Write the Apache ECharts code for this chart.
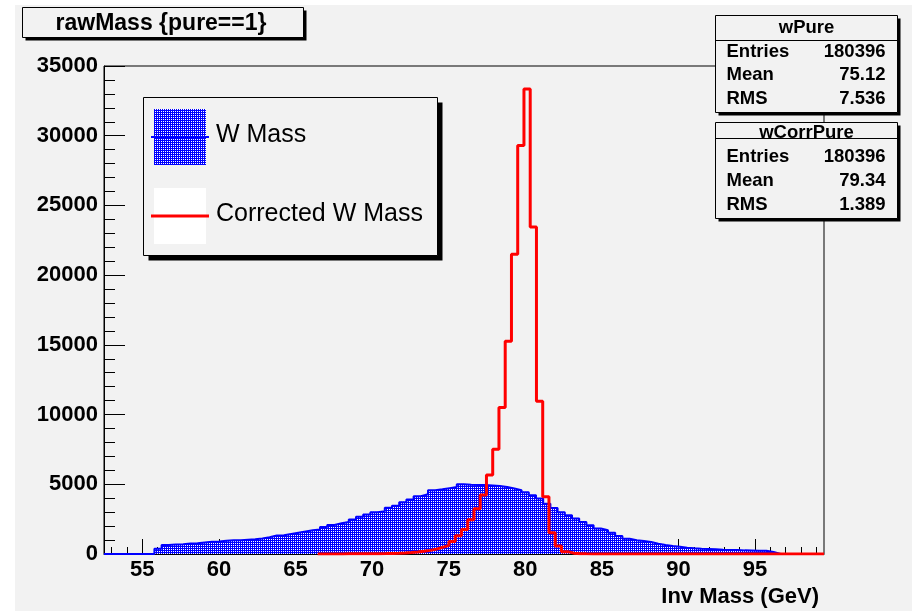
<!DOCTYPE html>
<html><head><meta charset="utf-8">
<script src="https://cdn.jsdelivr.net/npm/echarts@6/dist/echarts.min.js"></script>
<style>
html,body{margin:0;padding:0;background:#ffffff;}
#bg{position:absolute;left:15px;top:5px;width:897px;height:606px;background:#f2f2f2;}
#c{position:absolute;left:0;top:0;width:917px;height:611px;}
</style>
</head><body><div id="bg"></div><div id="c"></div>
<script>
// ---- data ----
const titleText = "rawMass {pure==1}";
const xAxisTitle = "Inv Mass (GeV)";
const xMin = 52.5, xMax = 99.5;
const yMin = 0, yMax = 35000, yStep = 5000;
const xMajorTicks = [55, 60, 65, 70, 75, 80, 85, 90, 95];
const xMinorTicks = [53, 54, 56, 57, 58, 59, 61, 62, 63, 64, 66, 67, 68, 69, 71, 72, 73, 74, 76, 77, 78, 79, 81, 82, 83, 84, 86, 87, 88, 89, 91, 92, 93, 94, 96, 97, 98, 99];

// W Mass histogram (100 bins from 52.5, width 0.47)
const wMassBinStart = 52.5, wMassBinWidth = 0.47;
const wMass = [0, 0, 0, 0, 0, 0, 0,
  380, 640, 690, 700, 750, 770, 830, 880, 890, 950,
  980, 990, 1030, 1060, 1110, 1200, 1330, 1350, 1440, 1530,
  1620, 1700, 1760, 1930, 2080, 2200, 2300, 2480, 2670, 2840,
  2990, 3070, 3310, 3460, 3720, 3900, 4150, 4280, 4580, 4640,
  4720, 4800, 5000, 4960, 4950, 4950, 4920, 4870, 4800, 4700,
  4580, 4430, 4220, 3980, 3600, 3300, 3000, 2780, 2540, 2300,
  2060, 1830, 1700, 1530, 1290, 1100, 980, 930, 860, 740,
  645, 575, 525, 455, 405, 380, 360, 335, 310, 290,
  280, 260, 255, 240, 235, 140,
  0, 0, 0, 0, 0, 0, 0];

// Corrected W Mass histogram (bins from 66.45, width 0.408)
const wCorrBinStart = 66.45, wCorrBinWidth = 0.408;
const wCorrMass = [0, 0, 5, 5, 10, 10, 15, 15, 20, 25, 30,
  40, 55, 75, 100, 140, 190, 260, 350, 480, 620,
  900, 1300, 1750, 2450, 3250, 4230, 5670, 7510, 10500, 15250,
  21500, 29300, 33350, 23450, 10950, 4110, 1530, 575, 170, 60,
  25, 10, 0, 0, 0, 0, 0, 0, 0, 0,
  0, 0, 0, 0, 0, 0, 0, 0, 0, 0,
  0, 0, 0, 0, 0, 0, 0, 0, 0, 0,
  0, 0, 0, 0, 0, 0, 0, 0, 0, 0];

const legendNames = ["W Mass", "Corrected W Mass"];
const statsPureName = "wPure";
const statsPure = [["Entries", "180396"], ["Mean", "75.12"], ["RMS", "7.536"]];
const statsCorrName = "wCorrPure";
const statsCorr = [["Entries", "180396"], ["Mean", "79.34"], ["RMS", "1.389"]];

// ---- helpers ----
function toSteps(start, width, vals) {
  const pts = vals.map((v, i) => [start + i * width, v]);
  pts.push([start + vals.length * width, vals[vals.length - 1]]);
  return pts;
}
const pc = document.createElement('canvas');
pc.width = 2; pc.height = 2;
const g2 = pc.getContext('2d');
g2.fillStyle = '#0000ff'; g2.fillRect(0, 0, 2, 2);
g2.fillStyle = '#ffffff'; g2.fillRect(1, 1, 1, 1);
const bluePattern = { image: pc, repeat: 'repeat' };

const FONT = '"Liberation Sans", Arial, Helvetica, sans-serif';

function shadowBox(x, y, w, h, off, z) {
  return [
    { type: 'rect', z: z, shape: { x: x + off, y: y + off, width: w, height: h }, style: { fill: '#000000' } },
    { type: 'rect', z: z + 1, shape: { x: x, y: y, width: w, height: h }, style: { fill: '#f2f2f2', stroke: '#000000', lineWidth: 1 } }
  ];
}
function text(t, x, y, size, weight, align, z) {
  return { type: 'text', z: z, style: { text: t, x: x, y: y, font: weight + ' ' + size + 'px ' + FONT, fill: '#000000', textAlign: align, textVerticalAlign: 'middle' } };
}
function statsBox(name, rows, x, y, w, h, sepY, headY, rowYs, z) {
  const els = shadowBox(x, y, w, h, 3, z);
  els.push({ type: 'line', z: z + 2, shape: { x1: x, y1: sepY, x2: x + w, y2: sepY }, style: { stroke: '#000000', lineWidth: 1 } });
  els.push(text(name, x + w / 2, headY, 18.5, 'bold', 'center', z + 3));
  rows.forEach((r, i) => {
    els.push(text(r[0], x + 11, rowYs[i], 18.5, 'bold', 'left', z + 3));
    els.push(text(r[1], x + w - 12, rowYs[i], 18.5, 'bold', 'right', z + 3));
  });
  return els;
}

let graphics = [];
graphics = graphics.concat(shadowBox(22.5, 7.5, 281, 30, 3, 100));
graphics.push(text(titleText, 161, 24, 23, 'bold', 'center', 103));
// legend
graphics = graphics.concat(shadowBox(143.5, 97.5, 294, 158, 5, 100));
graphics.push({ type: 'rect', z: 103, shape: { x: 154, y: 109, width: 52, height: 56 }, style: { fill: bluePattern } });
graphics.push({ type: 'line', z: 104, shape: { x1: 151, y1: 137, x2: 209, y2: 137 }, style: { stroke: '#0000ff', lineWidth: 2 } });
graphics.push(text(legendNames[0], 216, 135, 25, 'normal', 'left', 104));
graphics.push({ type: 'rect', z: 103, shape: { x: 154, y: 188, width: 52, height: 56 }, style: { fill: '#ffffff' } });
graphics.push({ type: 'line', z: 104, shape: { x1: 151, y1: 216, x2: 209, y2: 216 }, style: { stroke: '#ff0000', lineWidth: 3 } });
graphics.push(text(legendNames[1], 216, 214, 25, 'normal', 'left', 104));
// stats
graphics = graphics.concat(statsBox(statsPureName, statsPure, 715.5, 15.5, 182, 97, 40.5, 27.5, [51.5, 75, 98.5], 110));
graphics = graphics.concat(statsBox(statsCorrName, statsCorr, 715.5, 122.5, 182, 96, 138.5, 132.5, [157, 181, 204.5], 110));
// x axis title
graphics.push(text(xAxisTitle, 819, 597, 22, 'bold', 'right', 104));

const chart = echarts.init(document.getElementById('c'), null, { renderer: 'canvas' });
chart.setOption({
  animation: false,
  backgroundColor: 'transparent',
  grid: { left: 104, top: 66, right: 93, bottom: 57, containLabel: false, show: true, borderColor: '#000000', borderWidth: 1, backgroundColor: 'transparent' },
  xAxis: [{
    type: 'value', min: xMin, max: xMax, position: 'bottom',
    axisLine: { show: true, onZero: false, lineStyle: { color: '#000000', width: 1 } },
    axisTick: { show: true, inside: true, length: 15, customValues: xMajorTicks, lineStyle: { color: '#000000', width: 1 } },
    axisLabel: { show: true, customValues: xMajorTicks, margin: 5, color: '#000000', fontSize: 22, fontWeight: 'bold', fontFamily: FONT, formatter: v => String(v) },
    splitLine: { show: false }
  }, {
    type: 'value', min: xMin, max: xMax, position: 'bottom', offset: 0,
    axisLine: { show: false },
    axisTick: { show: true, inside: true, length: 7, customValues: xMinorTicks, lineStyle: { color: '#000000', width: 1 } },
    axisLabel: { show: false },
    splitLine: { show: false }
  }],
  yAxis: {
    type: 'value', min: yMin, max: yMax, interval: yStep,
    axisLine: { show: true, lineStyle: { color: '#000000', width: 1 } },
    axisTick: { show: true, inside: true, length: 21, lineStyle: { color: '#000000', width: 1 } },
    minorTick: { show: true, splitNumber: 5, length: 11, lineStyle: { color: '#000000', width: 1 } },
    axisLabel: { margin: 6, color: '#000000', fontSize: 22, fontWeight: 'bold', fontFamily: FONT, formatter: v => String(v) },
    splitLine: { show: false }, minorSplitLine: { show: false }
  },
  graphic: graphics,
  series: [{
    name: legendNames[0], type: 'line', step: 'end', xAxisIndex: 0,
    data: toSteps(wMassBinStart, wMassBinWidth, wMass),
    symbol: 'none', lineStyle: { color: '#0000ff', width: 2 },
    areaStyle: { color: bluePattern, opacity: 1, origin: 'start' }, z: 2
  }, {
    name: legendNames[1], type: 'line', step: 'end', xAxisIndex: 0,
    data: toSteps(wCorrBinStart, wCorrBinWidth, wCorrMass),
    symbol: 'none', lineStyle: { color: '#ff0000', width: 3 }, z: 3
  }]
});
</script>
</body></html>
